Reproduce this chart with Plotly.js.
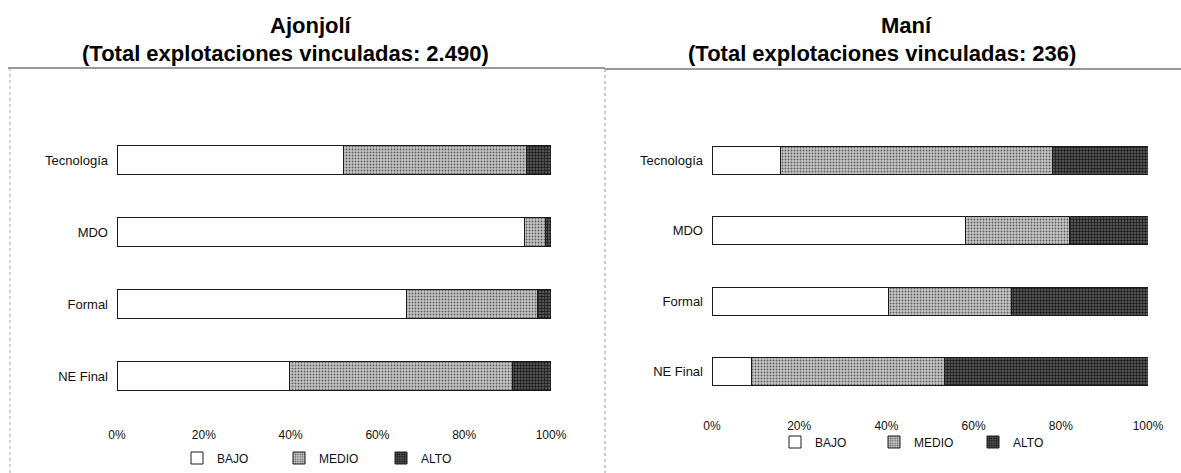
<!DOCTYPE html>
<html>
<head>
<meta charset="utf-8">
<script src="https://cdn.plot.ly/plotly-3.0.1.min.js"></script>
<style>html,body{margin:0;padding:0;background:#fff}#chart{width:1181px;height:473px}</style>
</head>
<body>
<div id="chart"></div>
<script>
// Data
var categories = ["Tecnología", "MDO", "Formal", "NE Final"];
var seriesNames = ["BAJO", "MEDIO", "ALTO"];
var ajonjoliBajo  = [52.3, 93.8, 66.6, 39.8];
var ajonjoliMedio = [42.0, 5.0, 30.2, 51.4];
var ajonjoliAlto  = [5.7, 1.2, 3.2, 8.8];
var maniBajo  = [15.6, 58.1, 40.5, 9.1];
var maniMedio = [62.5, 23.9, 28.3, 44.2];
var maniAlto  = [21.9, 18.0, 31.2, 46.7];
var tickVals = [0, 20, 40, 60, 80, 100];
var tickText = ["0%", "20%", "40%", "60%", "80%", "100%"];
var titleLeft1 = "Ajonjolí";
var titleLeft2 = "(Total explotaciones vinculadas: 2.490)";
var titleRight1 = "Maní";
var titleRight2 = "(Total explotaciones vinculadas: 236)";

var W = 1181, H = 473;
var font = "Arial, 'Liberation Sans', Helvetica, sans-serif";

var styles = {
  BAJO:  {color: "#ffffff", pattern: {shape: ""}},
  MEDIO: {color: "#b8b8b8", pattern: {shape: ".", fgcolor: "#5e5e5e", bgcolor: "#cacaca", size: 3, solidity: 0.35}},
  ALTO:  {color: "#444444", pattern: {shape: ".", fgcolor: "#161616", bgcolor: "#646464", size: 3, solidity: 0.5}}
};

function mk(vals, name, xa, ya, leg) {
  var s = styles[name];
  return {
    type: "bar", orientation: "h", name: name,
    x: vals, y: categories, xaxis: xa, yaxis: ya, legend: leg,
    marker: {color: s.color, pattern: s.pattern, line: {color: "#1a1a1a", width: 1}},
    hoverinfo: "x+y+name"
  };
}

var data = [
  mk(ajonjoliBajo, "BAJO", "x", "y", "legend"),
  mk(ajonjoliMedio, "MEDIO", "x", "y", "legend"),
  mk(ajonjoliAlto, "ALTO", "x", "y", "legend"),
  mk(maniBajo, "BAJO", "x2", "y2", "legend2"),
  mk(maniMedio, "MEDIO", "x2", "y2", "legend2"),
  mk(maniAlto, "ALTO", "x2", "y2", "legend2")
];

function px(x) { return x / W; }
function py(y) { return 1 - y / H; }

var xCommon = {
  range: [0, 100], tickvals: tickVals, ticktext: tickText,
  showgrid: false, zeroline: false, showline: false, ticks: "",
  tickfont: {family: font, size: 12, color: "#111"}, fixedrange: true
};
var yCommon = {
  type: "category", categoryorder: "array", categoryarray: categories,
  range: [3.5, -0.5], showgrid: false, zeroline: false, showline: false, ticks: "",
  tickfont: {family: font, size: 13, color: "#111"}, ticklabelstandoff: 8, fixedrange: true
};

var legCommon = {
  orientation: "h", xanchor: "left", yanchor: "middle",
  font: {family: font, size: 12, color: "#111"},
  itemwidth: 30, entrywidthmode: "pixels",
  bgcolor: "rgba(0,0,0,0)", traceorder: "normal", itemclick: false, itemdoubleclick: false
};

function title(t, x, y) {
  return {text: "<b>" + t + "</b>", xref: "paper", yref: "paper", x: px(x), y: py(y),
          xanchor: "center", yanchor: "middle", showarrow: false,
          font: {family: font, size: 22, color: "#000"}};
}

var layout = {
  width: W, height: H,
  margin: {l: 0, r: 0, t: 0, b: 0},
  paper_bgcolor: "#fff", plot_bgcolor: "rgba(0,0,0,0)",
  barmode: "stack", bargap: 0.6,
  font: {family: font, color: "#111"},
  xaxis: Object.assign({}, xCommon, {domain: [px(117), px(551)], anchor: "y", ticklabelstandoff: 14}),
  yaxis: Object.assign({}, yCommon, {domain: [py(412), py(124)], anchor: "x"}),
  xaxis2: Object.assign({}, xCommon, {domain: [px(712), px(1148)], anchor: "y2", ticklabelstandoff: 10}),
  yaxis2: Object.assign({}, yCommon, {domain: [py(407), py(125)], anchor: "x2"}),
  legend: Object.assign({}, legCommon, {x: px(177), y: py(458), entrywidth: 57}),
  legend2: Object.assign({}, legCommon, {x: px(775), y: py(442), entrywidth: 54}),
  annotations: [
    title(titleLeft1, 311, 26),
    title(titleLeft2, 285, 54),
    title(titleRight1, 906, 26),
    title(titleRight2, 882, 54)
  ],
  shapes: [
    {type: "line", xref: "paper", yref: "paper", x0: px(8), x1: px(605), y0: py(68), y1: py(68), line: {color: "#777", width: 1.5}},
    {type: "line", xref: "paper", yref: "paper", x0: px(605), x1: 1, y0: py(69), y1: py(69), line: {color: "#777", width: 1.5}},
    {type: "line", xref: "paper", yref: "paper", x0: px(10), x1: px(10), y0: py(68), y1: 0, line: {color: "#aaa", width: 1, dash: "dot"}},
    {type: "line", xref: "paper", yref: "paper", x0: px(605), x1: px(605), y0: py(69), y1: 0, line: {color: "#999", width: 1, dash: "dot"}}
  ]
};

Plotly.newPlot("chart", data, layout, {displayModeBar: false, staticPlot: true});
</script>
</body>
</html>
